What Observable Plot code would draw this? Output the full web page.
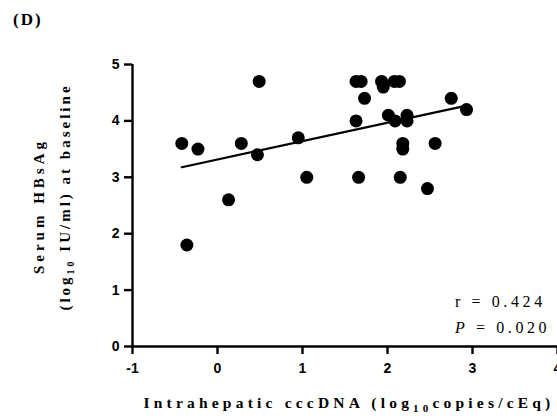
<!DOCTYPE html>
<html><head><meta charset="utf-8">
<script src="https://cdn.jsdelivr.net/npm/d3@7"></script>
<script src="https://cdn.jsdelivr.net/npm/@observablehq/plot@0.6"></script>
<style>
body{margin:0;background:#fff;}
#chart{position:relative;width:557px;height:416px;}
</style>
</head><body><div id="chart"></div>
<script>
const cccDNA = [-0.42,-0.36,-0.23,0.13,0.28,0.47,0.49,0.95,1.05,1.63,1.63,1.69,1.66,1.73,1.93,1.95,2.01,2.09,2.08,2.14,2.15,2.18,2.18,2.23,2.23,2.47,2.56,2.75,2.93];
const hbsag  = [3.6,1.8,3.5,2.6,3.6,3.4,4.7,3.7,3.0,4.0,4.7,4.7,3.0,4.4,4.7,4.6,4.1,4.0,4.7,4.7,3.0,3.6,3.5,4.1,4.0,2.8,3.6,4.4,4.2];
const xTicks = [-1,0,1,2,3,4];
const yTicks = [0,1,2,3,4,5];
const stats = ["r = 0.424", "P = 0.020"];

const data = cccDNA.map((x,i)=>({x, y: hbsag[i]}));

const plot = Plot.plot({
  width: 557, height: 416,
  marginLeft: 132, marginRight: 0, marginTop: 64, marginBottom: 70,
  style: {fontFamily: "Liberation Sans, Arial, sans-serif", fontSize: "14px", fontWeight: "bold", color: "#000", background: "#fff", overflow: "visible"},
  x: {domain: [-1, 4]},
  y: {domain: [0, 5]},
  marks: [
    Plot.axisX({ticks: xTicks, tickFormat: d => String(d), tickSize: 8, tickPadding: 9, label: null, strokeWidth: 2.4, fontWeight: "bold"}),
    Plot.axisY({ticks: yTicks, tickFormat: d => String(d), tickSize: 8, tickPadding: 5, label: null, strokeWidth: 2.4, fontWeight: "bold"}),
    Plot.ruleX([-1], {strokeWidth: 2.4}),
    Plot.ruleY([0], {strokeWidth: 2.4}),
    Plot.linearRegressionY(data, {x: "x", y: "y", ci: 0, stroke: "#000", strokeWidth: 2.2}),
    Plot.dot(data, {x: "x", y: "y", r: 6.5, fill: "#000", stroke: "none"})
  ]
});
document.getElementById("chart").appendChild(plot);

const svg = d3.select(plot);
const serif = "Liberation Serif, Times New Roman, serif";
svg.append("text").attr("x", 13).attr("y", 25).attr("text-anchor", "start").attr("font-family", serif).attr("font-weight", "bold")
  .attr("font-size", 17).attr("letter-spacing", "2px").text("(D)");

// y label
const yl = svg.append("text").attr("transform", "translate(44,206) rotate(-90)")
  .attr("text-anchor", "middle").attr("font-family", serif).attr("font-weight", "bold")
  .attr("font-size", 15);
yl.append("tspan").attr("x", 0).attr("dy", 0).attr("letter-spacing", "4px").text("Serum HBsAg");
const yl2 = yl.append("tspan").attr("x", 9).attr("dy", 26).attr("letter-spacing", "3px");
yl2.append("tspan").text("(log");
yl2.append("tspan").attr("font-size", 10).attr("dy", 4).text("10");
yl2.append("tspan").attr("dy", -4).text(" IU/ml) at baseline");

// x label
const xl = svg.append("text").attr("x", 349).attr("y", 408).attr("text-anchor", "middle")
  .attr("font-family", serif).attr("font-weight", "bold").attr("font-size", 15.5).attr("letter-spacing", "4.2px");
xl.append("tspan").text("Intrahepatic cccDNA (log");
xl.append("tspan").attr("font-size", 11).attr("dy", 4).text("10");
xl.append("tspan").attr("dy", -4).text("copies/cEq)");

// stats
const s1 = svg.append("text").attr("x", 455).attr("y", 307).attr("text-anchor", "start").attr("font-family", serif).attr("font-weight", "normal").attr("font-size", 16).attr("letter-spacing", "3.6px");
s1.text(stats[0]);
const s2 = svg.append("text").attr("x", 455).attr("y", 333).attr("text-anchor", "start").attr("font-family", serif).attr("font-weight", "normal").attr("font-size", 16).attr("letter-spacing", "3.6px");
s2.append("tspan").attr("font-style", "italic").text(stats[1].slice(0,1));
s2.append("tspan").text(stats[1].slice(1));
</script></body></html>
